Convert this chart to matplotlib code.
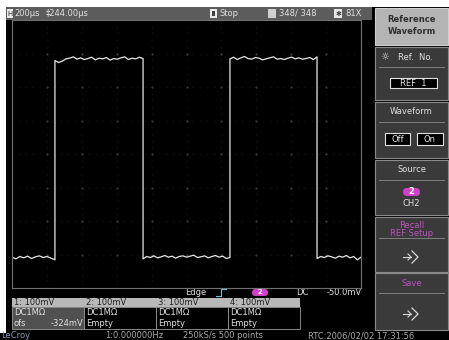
import numpy as np
import matplotlib.pyplot as plt
from matplotlib.patches import Rectangle, FancyBboxPatch

# channel 2 capture: 200us/div, 100mV/div, 10 x 8 divisions
t_span_us = 2000
v_span_mv = 400
high_mv = 281
low_mv = -310
# segment boundaries (us) and the ripple (mV)
seg_start_us = [0, 246, 751, 1249, 1748]
seg_end_us = [246, 751, 1249, 1748, 2000]
seg_level = ['low', 'high', 'low', 'high', 'low']
ripple_low1 = [2, -3, 4, 0, 5, -2, 3, 6, 1, 4, -1, -6]
ripple_high1 = [-2, -8, -4, 3, 5, 9, 2, 6, 1, 4, 8, 0, 5, 3, 7, -1, 4, 2, 6, 9, 1, 5, 3, 8, 4]
ripple_low2 = [-3, 4, 1, 6, 0, 3, 7, 2, 5, -1, 4, 6, 2, 5, 8, 1, 3, 6, 0, 4, 7, 2, 5, -2, 1]
ripple_high2 = [3, 8, 1, 6, 10, 4, 2, 7, 5, 0, 3, 6, 9, 2, 4, 1, 5, 8, 3, 6, 2, 4, 7, 1, 9]
ripple_low3 = [-2, 4, 1, 6, 3, -1, 5, 2, 7, 0, 4, -6, 2]
ripples = [ripple_low1, ripple_high1, ripple_low2, ripple_high2, ripple_low3]

t_us = []
v_mv = []
for start, end, lev, rip in zip(seg_start_us, seg_end_us, seg_level, ripples):
    base = high_mv if lev == 'high' else low_mv
    t_us.extend(np.linspace(start, end, len(rip)))
    v_mv.extend([base + r for r in rip])

ch_labels = ['1: 100mV', '2: 100mV', '3: 100mV', '4: 100mV']
ch_coupling = ['DC1M\u03a9', 'DC1M\u03a9', 'DC1M\u03a9', 'DC1M\u03a9']
ch_status = ['ofs', 'Empty', 'Empty', 'Empty']

W, H = 449, 340
fig = plt.figure(figsize=(W / 100, H / 100), dpi=100, facecolor='black')
ax = fig.add_axes([0, 0, 1, 1])
ax.set_xlim(0, W)
ax.set_ylim(H, 0)
ax.axis('off')
ax.set_facecolor('black')


def box(x0, y0, x1, y1, fc='black', ec='none', lw=0.8):
    ax.add_patch(Rectangle((x0, y0), x1 - x0, y1 - y0, fc=fc, ec=ec, lw=lw))


def txt(x, y, s, c='#e0e0e0', size=6, ha='left', **kw):
    ax.text(x, y, s, color=c, fontsize=size, ha=ha, va='center', family='DejaVu Sans', **kw)


# white margins of the photo
box(0, 0, W, 7, fc='white')
box(0, 0, 6, 333, fc='white')

# header bar
box(6, 7, 372, 20, fc='#5c5c5c')
box(7, 9, 13, 18, fc='#e8e8e8')
txt(10, 13.5, 'H', c='#303030', size=5, ha='center')
txt(14, 13.5, '200\u03bcs')
txt(46, 13.5, '\u2021244.00\u03bcs')
box(210, 9, 217, 18, fc='#e8e8e8')
box(212, 11, 215, 16, fc='#404040')
txt(219, 13.5, 'Stop')
box(268, 9, 276, 18, fc='#d0d0d0')
txt(279, 13.5, '348/ 348')
box(334, 9, 342, 18, fc='#e8e8e8')
txt(338, 13.5, '\u2731', c='#404040', size=5, ha='center')
txt(345, 13.5, '81X')

# trigger position marker
txt(229, 23, '\u25be', c='#909090', size=5, ha='center')

# right side menu
box(375, 8, 448, 45, fc='#b4b4b4', ec='#d0d0d0')
txt(411.5, 20, 'Reference', c='#303030', ha='center', weight='bold')
txt(411.5, 32, 'Waveform', c='#303030', ha='center', weight='bold')
menus = [(47, 100, 'Ref. No.'), (102, 158, 'Waveform'), (160, 215, 'Source'),
         (217, 272, ''), (273, 330, 'Save')]
for y0, y1, title in menus:
    box(375, y0, 448, y1, fc='#3a3a3a', ec='#8a8a8a')
    sep = y0 + 21 if title == '' else y0 + 20
    ax.plot([379, 444], [sep, sep], color='#8a8a8a', lw=0.6)
txt(385, 57, '\u263c', size=7, ha='center')
txt(416, 57, 'Ref.  No.', ha='center')
box(390, 78, 437, 88, fc='black', ec='#e0e0e0')
txt(413.5, 83, 'REF  1', ha='center')
txt(411.5, 111, 'Waveform', ha='center')
box(385, 133, 410, 145, fc='black', ec='#e0e0e0')
txt(397.5, 139, 'Off', ha='center')
box(417, 133, 443, 145, fc='black', ec='#e0e0e0')
txt(430, 139, 'On', ha='center')
txt(411.5, 170, 'Source', ha='center')
ax.add_patch(FancyBboxPatch((403, 188), 17, 8, boxstyle='round,pad=0,rounding_size=4',
                            fc='#d040c8', ec='none'))
txt(411.5, 192, '2', c='white', ha='center', weight='bold')
txt(411.5, 203, 'CH2', ha='center')
txt(411.5, 225, 'Recall', c='#c050c0', ha='center')
txt(411.5, 234, 'REF Setup', c='#c050c0', ha='center')
txt(411.5, 283, 'Save', c='#c050c0', ha='center')
for yc in [257, 314]:
    ax.plot([403, 411], [yc, yc], color='#d8d8d8', lw=0.8)
    ax.plot([408, 411, 408], [yc - 3, yc, yc + 3], color='#d8d8d8', lw=0.8)
    ax.plot([412, 418, 412], [yc - 6, yc, yc + 6], color='#d8d8d8', lw=0.9)

# trigger row
txt(185, 292.5, 'Edge')
ax.plot([216, 221, 221, 226], [296, 296, 289, 289], color='#70c0e0', lw=0.8)
ax.add_patch(FancyBboxPatch((252, 289), 16, 7, boxstyle='round,pad=0,rounding_size=3.5',
                            fc='#d040c8', ec='none'))
txt(260, 292.5, '2', c='white', size=5, ha='center', weight='bold')
txt(296, 292.5, 'DC')
txt(327, 292.5, '-50.0mV')

# channel table
box(12, 298, 300, 307, fc='#b8b8b8')
col_x = [12, 84, 156, 228]
for i, x0 in enumerate(col_x):
    fc = '#505050' if i == 0 else 'black'
    box(x0, 307, x0 + 72, 329, fc=fc, ec='#9a9a9a', lw=0.6)
    txt(x0 + 2, 302.5, ch_labels[i], c='#202020')
    txt(x0 + 2, 312.5, ch_coupling[i])
    txt(x0 + 2, 323.5, ch_status[i])
txt(83, 323.5, '-324mV', ha='right')

# status line
txt(1, 336, 'LeCroy', c='#8c9ab8')
txt(105, 336, '1:0.000000Hz', c='#a8a8a8')
txt(183, 336, '250kS/s 500 points', c='#a8a8a8')
txt(308, 336, 'RTC:2006/02/02 17:31:56', c='#a8a8a8')

# scope screen
sx0, sx1, sy0, sy1 = 12, 361, 20, 288
scope = fig.add_axes([sx0 / W, (H - sy1) / H, (sx1 - sx0) / W, (sy1 - sy0) / H])
scope.set_facecolor('black')
scope.set_xlim(0, t_span_us)
scope.set_ylim(-v_span_mv, v_span_mv)
scope.set_xticks([])
scope.set_yticks([])
for sp in scope.spines.values():
    sp.set_color('#707070')
    sp.set_linewidth(0.8)

xdiv = np.arange(200, t_span_us, 200)
ydiv = np.arange(-300, v_span_mv, 100)
for xv in xdiv:
    scope.plot([xv] * 41, np.linspace(-400, 400, 41), ls='none', marker='.',
               ms=0.6, color='#161616')
for yv in ydiv:
    scope.plot(np.linspace(0, 2000, 51), [yv] * 51, ls='none', marker='.',
               ms=0.6, color='#161616')
gx, gy = np.meshgrid(xdiv, ydiv)
scope.plot(gx.ravel(), gy.ravel(), ls='none', marker='.', ms=1.2, color='#3c3c3c')

scope.plot(t_us, v_mv, color='#e8e8e8', lw=0.9)

fig.savefig('out.png', dpi=100, facecolor='black')
